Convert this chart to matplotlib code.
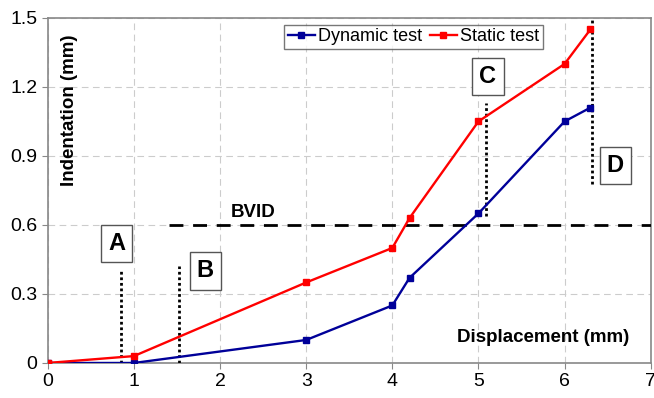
import matplotlib
matplotlib.use('Agg')
import matplotlib.pyplot as plt

plt.rcParams['font.family'] = ['Liberation Sans', 'DejaVu Sans']

# Data
disp = [0, 1, 3, 4, 4.2, 5, 6, 6.3]
dynamic = [0, 0, 0.10, 0.25, 0.37, 0.65, 1.05, 1.11]
static = [0, 0.03, 0.35, 0.50, 0.63, 1.05, 1.30, 1.45]

# Dotted markers (x, y_bottom, y_top) and labels
mark_labels = ['A', 'B', 'C', 'D']
mark_x = [0.85, 1.52, 5.09, 6.32]
mark_ylo = [0.0, 0.0, 0.64, 0.78]
mark_yhi = [0.41, 0.42, 1.13, 1.50]
box_x = [0.80, 1.83, 5.11, 6.59]
box_y = [0.52, 0.40, 1.245, 0.86]

bvid_y = 0.6
bvid_x = [1.41, 7.0]

fig = plt.figure(figsize=(6.54, 3.98), dpi=100)
ax = fig.add_axes([0.073, 0.088, 0.922, 0.867])

ax.plot(disp, dynamic, color='#000099', marker='s', markersize=5, lw=1.7,
        label='Dynamic test', zorder=4)
ax.plot(disp, static, color='#ff0000', marker='s', markersize=5, lw=1.7,
        label='Static test', zorder=4)

ax.plot(bvid_x, [bvid_y, bvid_y], color='black', lw=2, ls=(0, (5, 3.5)), zorder=3)
ax.text(2.39, 0.655, 'BVID', fontsize=13.5, fontweight='bold', ha='center', va='center')

for lab, x, ylo, yhi, bx, by in zip(mark_labels, mark_x, mark_ylo, mark_yhi, box_x, box_y):
    ax.plot([x, x], [ylo, yhi], color='black', lw=2, ls=(0, (1, 1)), zorder=3)
    ax.text(bx, by, lab, fontsize=17, fontweight='bold', ha='center', va='center',
            bbox=dict(boxstyle='square,pad=0.3', fc='white', ec='#555555', lw=1))

ax.set_xlim(0, 7)
ax.set_ylim(0, 1.5)
ax.set_xticks(range(0, 8))
ax.set_yticks([0, 0.3, 0.6, 0.9, 1.2, 1.5])
ax.set_yticklabels(['0', '0.3', '0.6', '0.9', '1.2', '1.5'])
ax.tick_params(labelsize=14, color='#888888', length=4)
ax.grid(True, color='#cccccc', ls=(0, (6, 4)), lw=0.8)
ax.set_axisbelow(True)
for s in ax.spines.values():
    s.set_color('#888888')
    s.set_linewidth(1.2)

ax.text(0.036, 0.733, 'Indentation (mm)', transform=ax.transAxes, rotation=90,
        fontsize=13.5, fontweight='bold', ha='center', va='center')
ax.text(0.821, 0.073, 'Displacement (mm)', transform=ax.transAxes,
        fontsize=13.5, fontweight='bold', ha='center', va='center')

leg = ax.legend(loc='upper left', bbox_to_anchor=(0.392, 0.98), ncol=2, fontsize=13,
                frameon=True, fancybox=False, edgecolor='#555555',
                handlelength=1.5, handletextpad=0.2, columnspacing=0.4,
                borderpad=0.2, borderaxespad=0)
leg.get_frame().set_linewidth(1)

fig.savefig('out.png', dpi=100)
